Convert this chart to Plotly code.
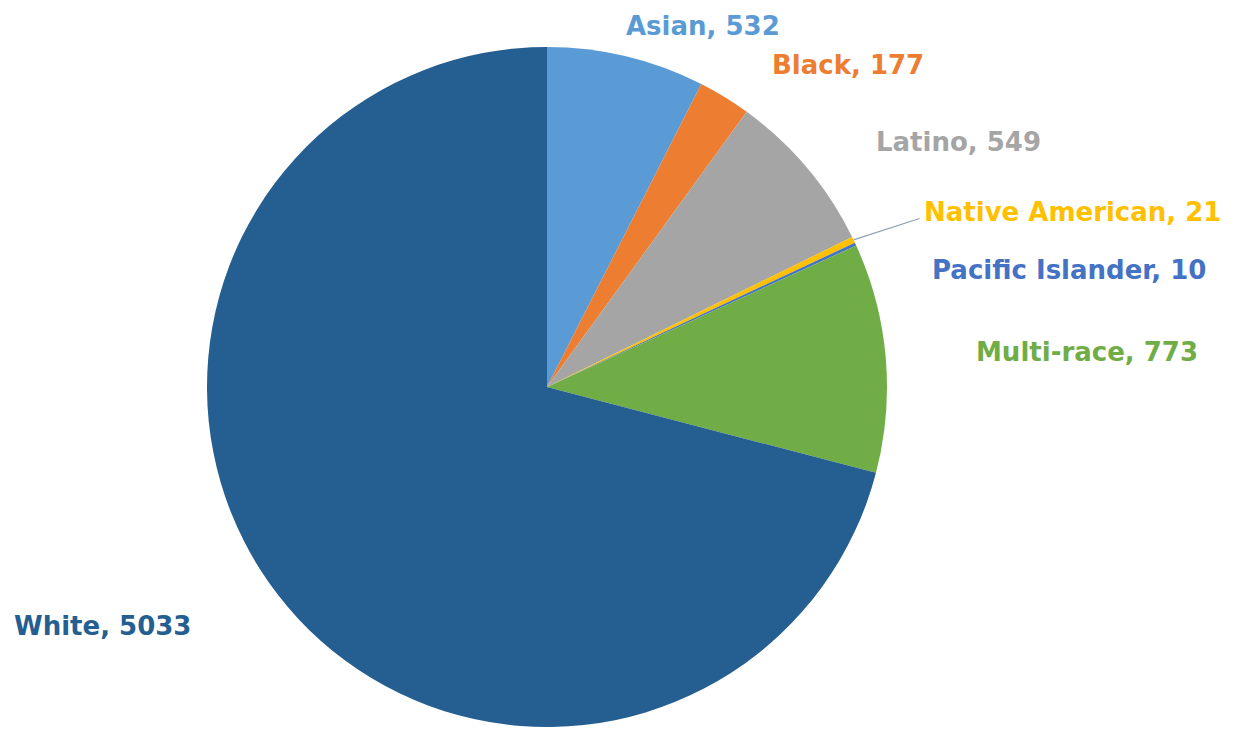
import math
import plotly.graph_objects as go

labels = ["Asian", "Black", "Latino", "Native American", "Pacific Islander", "Multi-race", "White"]
values = [532, 177, 549, 21, 10, 773, 5033]
colors = ["#5B9BD5", "#ED7D31", "#A5A5A5", "#FFC000", "#4472C4", "#70AD47", "#255E91"]

W, H = 1245, 729
OFF = 8  # page body margin
# label anchor positions (pixels from top-left of page): left edge, vertical centre
label_pos = [(625, 26), (771, 65), (875, 142), (923, 212), (931, 270), (975, 352), (13, 626)]

CX, CY, R = 547, 387, 340


def px(x):
    return (x - OFF) / W


def py(y):
    return 1 - (y - OFF) / H


fig = go.Figure(go.Pie(
    labels=labels, values=values, sort=False, direction="clockwise", rotation=0,
    marker=dict(colors=colors, line=dict(width=0)),
    textinfo="none", hoverinfo="label+value", showlegend=False,
    domain=dict(x=[px(CX - R), px(CX + R)], y=[py(CY + R), py(CY - R)]),
))

annotations = []
for lab, val, col, (lx, ly) in zip(labels, values, colors, label_pos):
    annotations.append(dict(
        x=px(lx), y=min(py(ly), 1.0), xref="paper", yref="paper",
        xanchor="left", yanchor="middle", showarrow=False, borderpad=0,
        text=f"<b>{lab}, {val}</b>",
        font=dict(family="DejaVu Sans", size=26, color=col),
    ))

# leader line for the Native American slice
total = sum(values)
i = labels.index("Native American")
mid = (sum(values[:i]) + values[i] / 2) / total * 2 * math.pi
ex = CX + R * math.sin(mid)
ey = CY - R * math.cos(mid)
lx, ly = label_pos[i]
annotations.append(dict(
    x=px(ex), y=py(ey), xref="paper", yref="paper", text="",
    showarrow=True, arrowhead=0, arrowwidth=1.2, arrowcolor="#8EA0B8",
    ax=(lx - 2) - ex, ay=(ly + 6) - ey, standoff=0, startstandoff=0,
))

fig.update_layout(
    width=W, height=H, margin=dict(l=0, r=0, t=0, b=0),
    paper_bgcolor="white", plot_bgcolor="white",
    annotations=annotations,
)
fig.write_html("out.html")
